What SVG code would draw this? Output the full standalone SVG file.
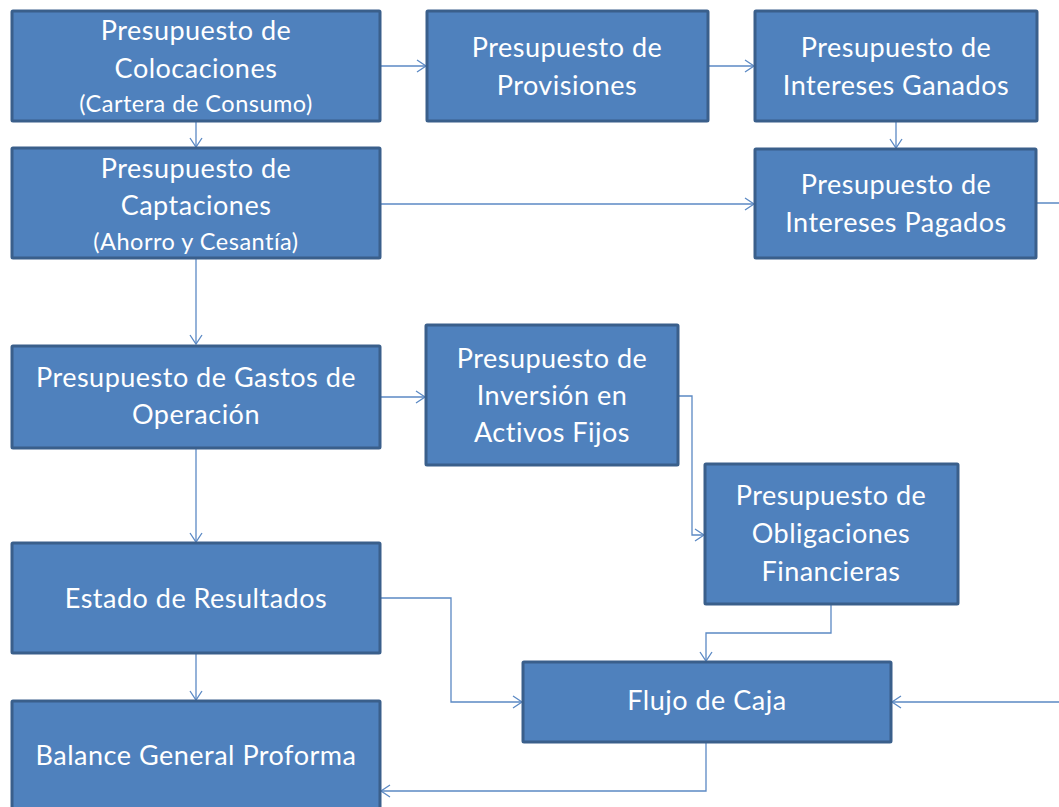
<svg xmlns="http://www.w3.org/2000/svg" width="1059" height="807" viewBox="0 0 1059 807">
<style>
.box{fill:#4F81BD;stroke:#3A5F8B;stroke-width:3}
.t{font-family:Lato,"Liberation Sans",sans-serif;font-size:27px;letter-spacing:0.5px;fill:#fff;text-anchor:middle}
.s{font-size:23.5px}
.c{fill:none;stroke:#5B89C4;stroke-width:1.3}
</style>
<defs>
<marker id="a" markerWidth="12" markerHeight="14" refX="10" refY="7" orient="auto" markerUnits="userSpaceOnUse">
<path d="M1,1 L10,7 L1,13" fill="none" stroke="#5B89C4" stroke-width="1.3"/>
</marker>
</defs>
<rect width="1059" height="807" fill="#fff"/>
<g id="connectors">
<path class="c" d="M380,66 H426" marker-end="url(#a)"/>
<path class="c" d="M708,66 H754" marker-end="url(#a)"/>
<path class="c" d="M196,121 V147" marker-end="url(#a)"/>
<path class="c" d="M896,121 V148" marker-end="url(#a)"/>
<path class="c" d="M380,204 H754" marker-end="url(#a)"/>
<path class="c" d="M1036,203 H1070 V702 H892" marker-end="url(#a)"/>
<path class="c" d="M196,258 V344" marker-end="url(#a)"/>
<path class="c" d="M380,397 H425" marker-end="url(#a)"/>
<path class="c" d="M678,396 H692 V535 H704" marker-end="url(#a)"/>
<path class="c" d="M196,448 V542" marker-end="url(#a)"/>
<path class="c" d="M196,653 V700" marker-end="url(#a)"/>
<path class="c" d="M380,598 H451 V702 H522" marker-end="url(#a)"/>
<path class="c" d="M831,604 V633 H706 V661" marker-end="url(#a)"/>
<path class="c" d="M706,742 V791 H381" marker-end="url(#a)"/>
</g>
<g id="colocaciones">
<rect class="box" x="12" y="11" width="368" height="110" rx="1"/>
<text class="t" x="196" y="40">Presupuesto de</text>
<text class="t" x="196" y="78">Colocaciones</text>
<text class="t s" x="196" y="112">(Cartera de Consumo)</text>
</g>
<g id="provisiones">
<rect class="box" x="427" y="11" width="281" height="110" rx="1"/>
<text class="t" x="567" y="57">Presupuesto de</text>
<text class="t" x="567" y="95">Provisiones</text>
</g>
<g id="ganados">
<rect class="box" x="755" y="11" width="282" height="110" rx="1"/>
<text class="t" x="896" y="57">Presupuesto de</text>
<text class="t" x="896" y="95">Intereses Ganados</text>
</g>
<g id="captaciones">
<rect class="box" x="12" y="148" width="368" height="110" rx="1"/>
<text class="t" x="196" y="178">Presupuesto de</text>
<text class="t" x="196" y="215">Captaciones</text>
<text class="t s" x="196" y="250">(Ahorro y Cesantía)</text>
</g>
<g id="pagados">
<rect class="box" x="755" y="149" width="281" height="109" rx="1"/>
<text class="t" x="896" y="194">Presupuesto de</text>
<text class="t" x="896" y="232">Intereses Pagados</text>
</g>
<g id="gastos">
<rect class="box" x="12" y="346" width="368" height="102" rx="1"/>
<text class="t" x="196" y="387">Presupuesto de Gastos de</text>
<text class="t" x="196" y="424">Operación</text>
</g>
<g id="inversion">
<rect class="box" x="426" y="325" width="252" height="140" rx="1"/>
<text class="t" x="552" y="368">Presupuesto de</text>
<text class="t" x="552" y="405">Inversión en</text>
<text class="t" x="552" y="442">Activos Fijos</text>
</g>
<g id="obligaciones">
<rect class="box" x="705" y="464" width="253" height="140" rx="1"/>
<text class="t" x="831" y="505">Presupuesto de</text>
<text class="t" x="831" y="543">Obligaciones</text>
<text class="t" x="831" y="581">Financieras</text>
</g>
<g id="estado">
<rect class="box" x="12" y="543" width="368" height="110" rx="1"/>
<text class="t" x="196" y="608">Estado de Resultados</text>
</g>
<g id="balance">
<rect class="box" x="12" y="701" width="368" height="112" rx="1"/>
<text class="t" x="196" y="765">Balance General Proforma</text>
</g>
<g id="flujo">
<rect class="box" x="523" y="662" width="368" height="80" rx="1"/>
<text class="t" x="707" y="710">Flujo de Caja</text>
</g>
</svg>
